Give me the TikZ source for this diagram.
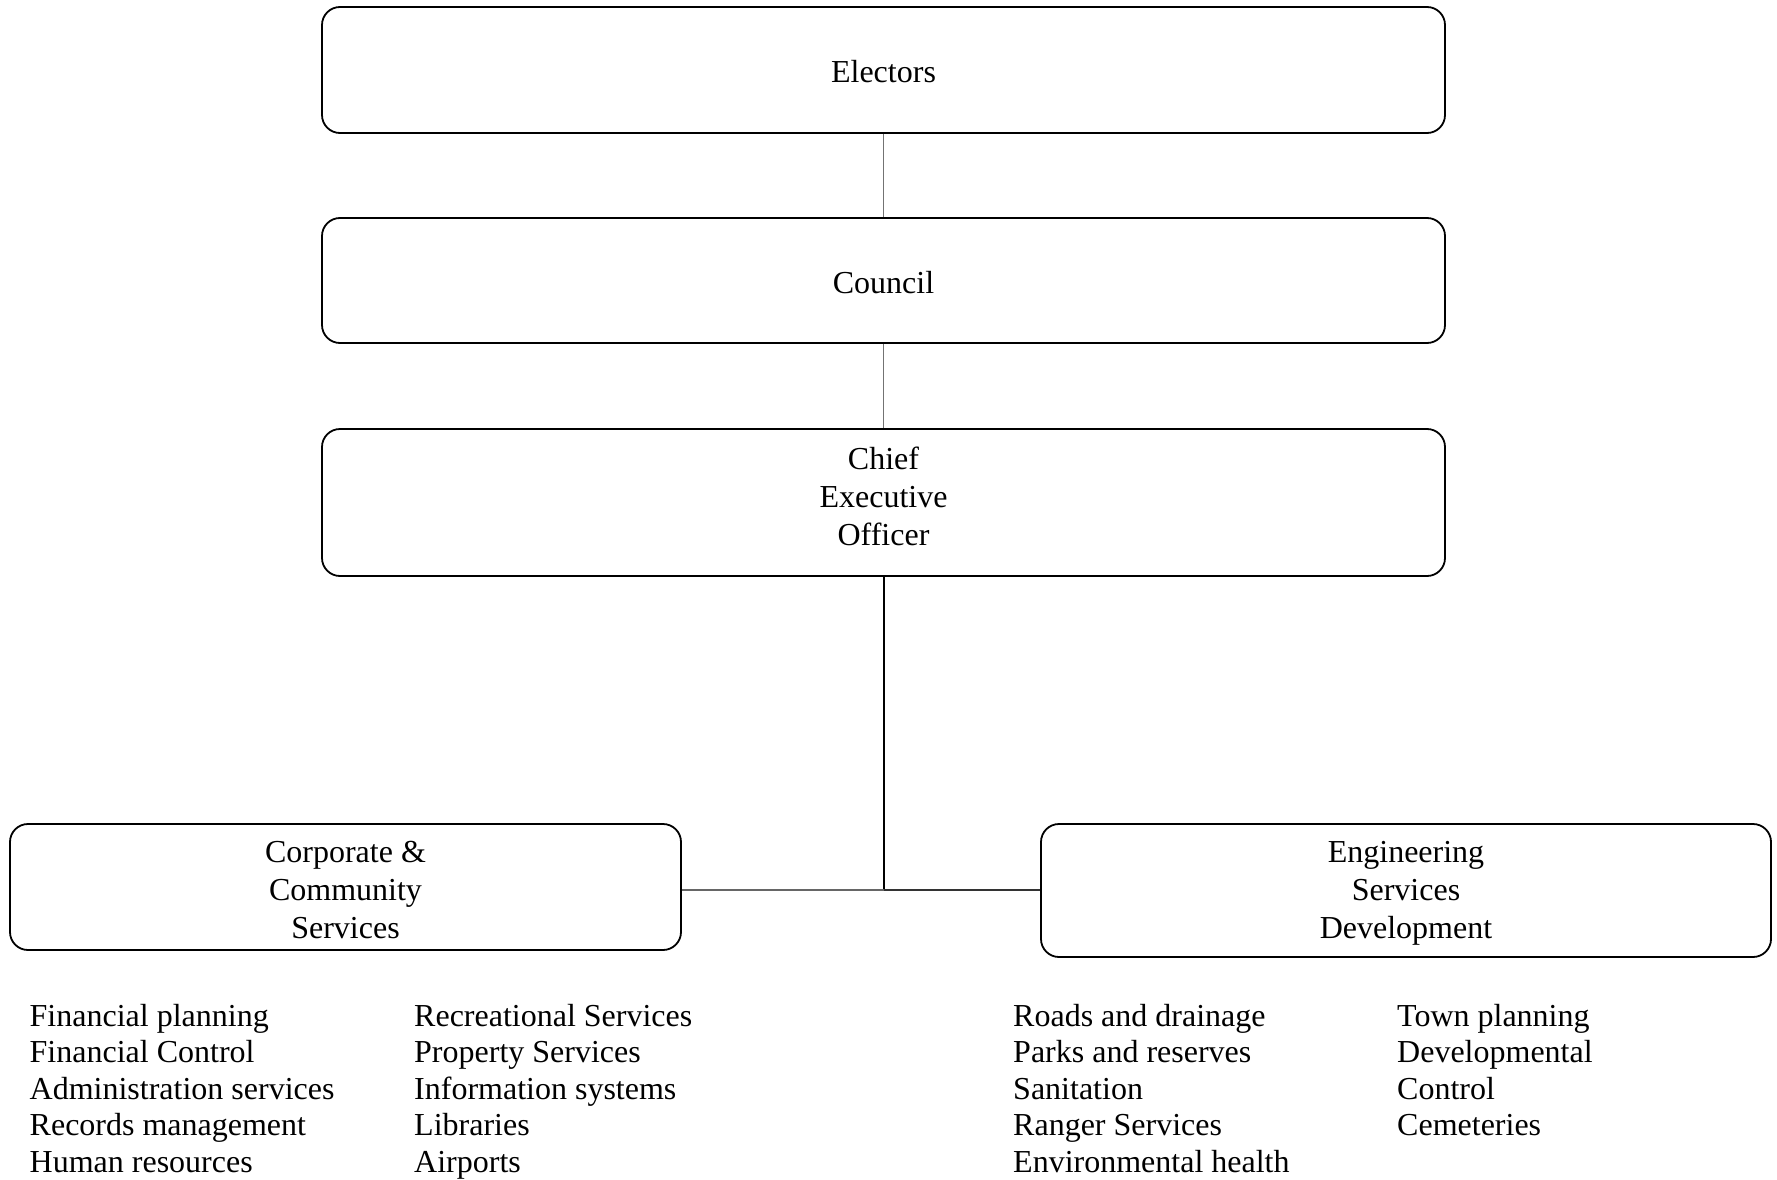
\documentclass[tikz,border=0pt]{standalone}
\usepackage{fontspec}
\setmainfont{Liberation Serif}
\begin{document}
\begin{tikzpicture}[x=1pt,y=-1pt]
\tikzset{
  box/.style={draw, line width=1.8pt, rounded corners=18pt, inner sep=0pt},
  lbl/.style={font=\fontsize{32}{38}\selectfont, align=center, inner sep=0pt},
  lst/.style={font=\fontsize{32}{36.5}\selectfont, align=left, anchor=base west, inner sep=0pt},
  thinline/.style={draw=black!55, line width=1.2pt},
}
\useasboundingbox (0,0) rectangle (1777,1180);
% boxes
\node[box, minimum width=1123pt, minimum height=126pt] (electors) at (883.5,70) {};
\node[box, minimum width=1123pt, minimum height=125pt] (council) at (883.5,280.5) {};
\node[box, minimum width=1123pt, minimum height=147pt] (ceo) at (883.5,502.5) {};
\node[box, minimum width=671pt, minimum height=126pt] (corp) at (345.5,887) {};
\node[box, minimum width=730pt, minimum height=133pt] (eng) at (1406,890.5) {};
% box texts (base = baseline of the last line)
\node[lbl] (electorsT) at (883.5,72) {Electors};
\node[lbl] (councilT) at (883.5,283) {Council};
\node[lbl, anchor=base] (ceoT) at (883.5,545) {Chief\\Executive\\Officer};
\node[lbl, anchor=base] (corpT) at (345.5,938) {Corporate \&\\Community\\Services};
\node[lbl, anchor=base] (engT) at (1406,938) {Engineering\\Services\\Development};
% connectors
\coordinate (j) at (883.5,890);
\draw[thinline] (electors.south) -- (council.north);
\draw[thinline] (council.south) -- (ceo.north);
\draw[line width=2pt] (ceo.south) -- (j);
\draw[line width=1.5pt, black!60] (j) -- (corp.east |- j);
\draw[line width=1.5pt, black!80] (j) -- (eng.west |- j);
% lists
\node[lst] (list1) at (29.5,1172) {Financial planning\\Financial Control\\Administration services\\Records management\\Human resources};
\node[lst] (list2) at (414,1172) {Recreational Services\\Property Services\\Information systems\\Libraries\\Airports};
\node[lst] (list3) at (1013,1172) {Roads and drainage\\Parks and reserves\\Sanitation\\Ranger Services\\Environmental health};
\node[lst] (list4) at (1397,1135.5) {Town planning\\Developmental\\Control\\Cemeteries};
\end{tikzpicture}
\end{document}
